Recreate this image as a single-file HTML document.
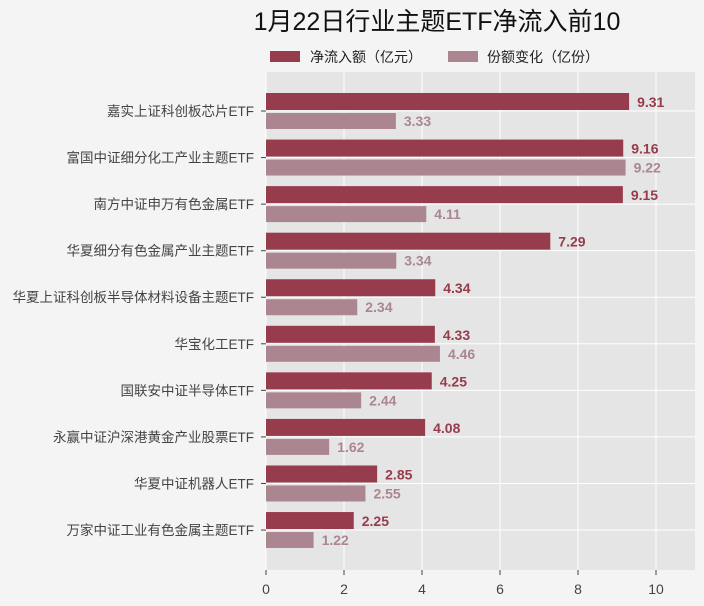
<!DOCTYPE html>
<html><head><meta charset="utf-8"><style>
body{margin:0;background:#f4f4f4;font-family:"Liberation Sans","Noto Sans CJK SC",sans-serif;}
svg{display:block}
</style></head><body>
<svg id="c" width="704" height="606">
<rect width="704" height="606" fill="#f4f4f4"/>
<text x="437" y="30" font-size="25" text-anchor="middle" fill="#111" font-family="Liberation Sans,Noto Sans CJK SC,sans-serif">1月22日行业主题ETF净流入前10</text>
<rect x="270" y="51" width="30" height="11" fill="#973c4c"/>
<text x="310" y="62" font-size="14" fill="#222">净流入额（亿元）</text>
<rect x="448" y="51" width="30" height="11" fill="#ab8690"/>
<text x="487" y="62" font-size="14" fill="#222">份额变化（亿份）</text>
<rect x="266" y="72" width="429" height="498" fill="#e5e5e5"/>
<g id="g"></g>
</svg>
<script>
const categories=["嘉实上证科创板芯片ETF","富国中证细分化工产业主题ETF","南方中证申万有色金属ETF","华夏细分有色金属产业主题ETF","华夏上证科创板半导体材料设备主题ETF","华宝化工ETF","国联安中证半导体ETF","永赢中证沪深港黄金产业股票ETF","华夏中证机器人ETF","万家中证工业有色金属主题ETF"];
const netInflow=[9.31,9.16,9.15,7.29,4.34,4.33,4.25,4.08,2.85,2.25];
const shareChange=[3.33,9.22,4.11,3.34,2.34,4.46,2.44,1.62,2.55,1.22];
const ticks=[0,2,4,6,8,10];
const NS="http://www.w3.org/2000/svg",g=document.getElementById('g');
const x=v=>266+v*39, y=i=>111+i*46.56;
function mk(t,a,txt){const e=document.createElementNS(NS,t);for(const k in a)e.setAttribute(k,a[k]);if(txt!==undefined)e.textContent=txt;g.appendChild(e);return e;}
ticks.forEach(t=>{
 let e=mk('line',{x1:x(t),x2:x(t),y1:72,y2:570,stroke:'#fff','stroke-width':1});
 
 
 e=mk('line',{x1:x(t),x2:x(t),y1:570,y2:575,stroke:'#444'});
 
 
 e=mk('text',{x:x(t),y:594,'font-size':14,fill:'#444','text-anchor':'middle'},String(t));
 
 
});
categories.forEach((c,i)=>{
 let e=mk('line',{x1:266,x2:695,y1:y(i),y2:y(i),stroke:'#fff'});
 
 
 e=mk('line',{x1:261,x2:266,y1:y(i),y2:y(i),stroke:'#444'});
 
 
 e=mk('text',{x:254,y:y(i)+5,'font-size':13.5,fill:'#444','text-anchor':'end'},c);
 
 
 e=mk('rect',{x:266,y:y(i)-18,width:netInflow[i]*39,height:17,fill:'#973c4c'});
 
 
 e=mk('rect',{x:266,y:y(i)+2,width:shareChange[i]*39,height:16,fill:'#ab8690'});
 
 
 e=mk('text',{x:x(netInflow[i])+8,y:y(i)-4,'font-size':14,'font-weight':'bold',fill:'#973c4c'},netInflow[i].toFixed(2));
 
 
 e=mk('text',{x:x(shareChange[i])+8,y:y(i)+15,'font-size':14,'font-weight':'bold',fill:'#ab8690'},shareChange[i].toFixed(2));
 
 
});
</script>
</body></html>
